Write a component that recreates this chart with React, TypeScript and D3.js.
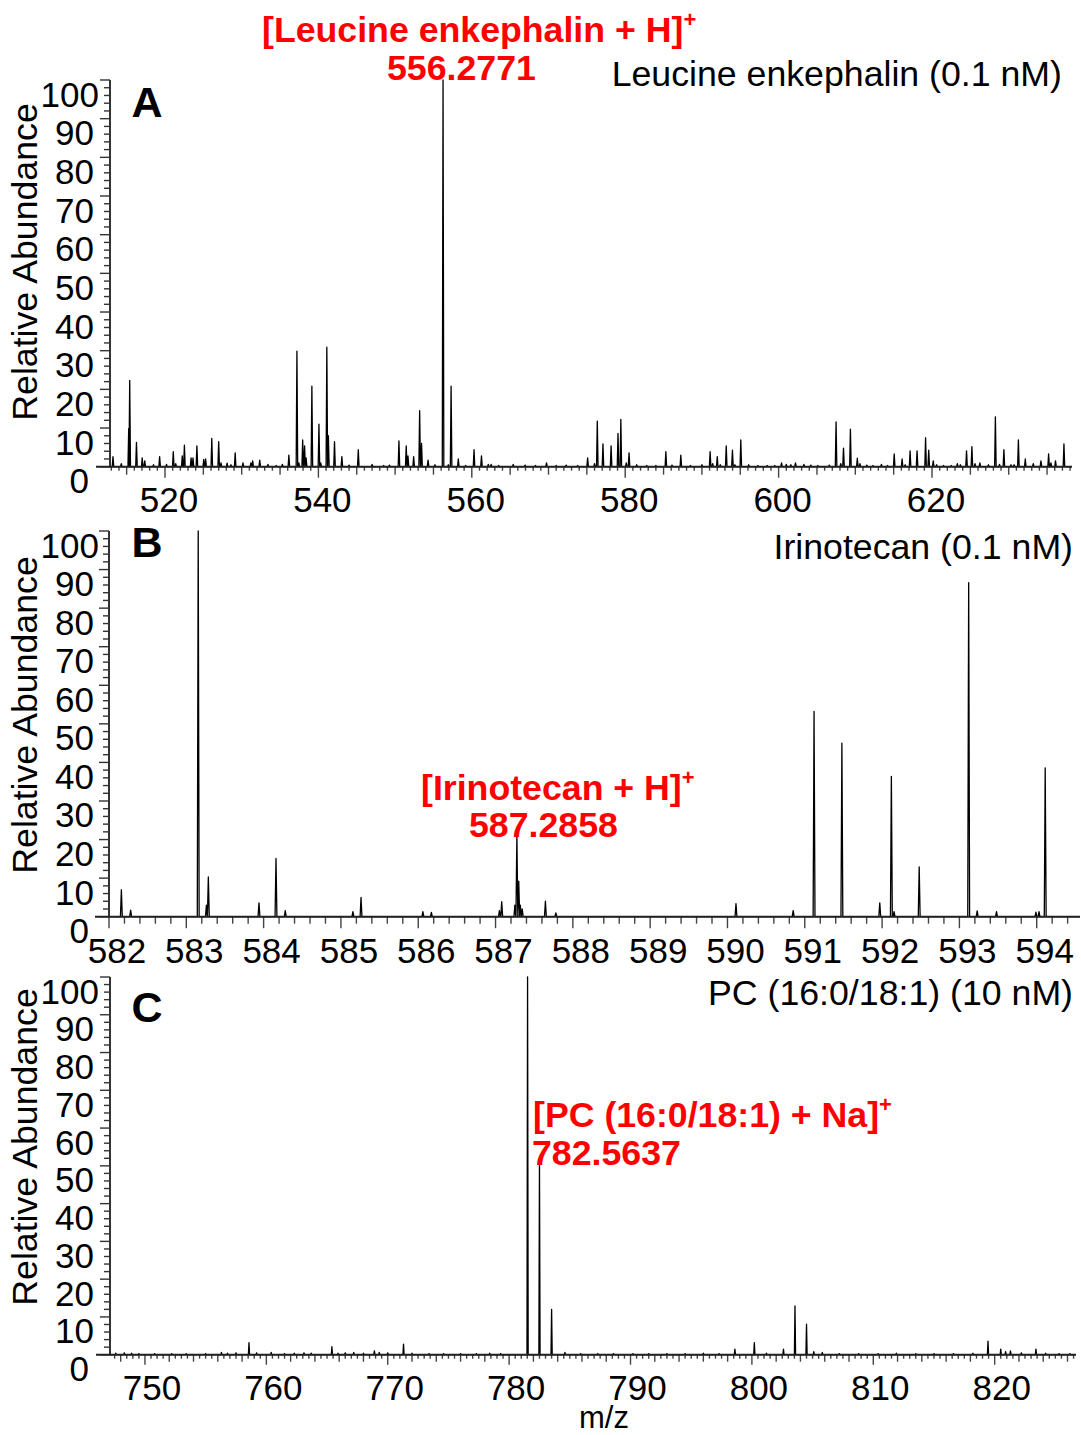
import React from "react";
import * as d3 from "d3";

const FONT = "'Liberation Sans', Arial, Helvetica, sans-serif";
const TXT = 35.7;
const TICK = 35;

type Peak = [number, number];

// ---------- DATA ----------
const yTickValues = [0, 10, 20, 30, 40, 50, 60, 70, 80, 90, 100];
const xTicksA = [520, 540, 560, 580, 600, 620];
const xTicksB = [582, 583, 584, 585, 586, 587, 588, 589, 590, 591, 592, 593, 594];
const xTicksC = [750, 760, 770, 780, 790, 800, 810, 820];

const peaksA: Peak[] = [
  [513.22, 2.6], [514.3, 0.8], [515.27, 9.9], [515.4, 22.3], [516.28, 6.3], [517.03, 2.3], [517.36, 1.5],
  [518.5, 0.5], [519.3, 2.6], [520.2, 0.6], [521.08, 3.9], [521.4, 0.8], [522.25, 2.8], [522.53, 5.6],
  [523.4, 2.3], [523.65, 2.3], [524.16, 5.4], [525.05, 1.9], [525.3, 2.0], [526.1, 7.3], [527.0, 6.5],
  [527.3, 1.0], [528.1, 0.9], [528.6, 0.5], [529.15, 3.6], [530.17, 1.0], [531.2, 1.0], [531.43, 1.5],
  [532.35, 1.7], [533.42, 0.6], [534.5, 0.3], [535.3, 0.6], [536.15, 3.0], [537.2, 29.9], [537.45, 1.0],
  [537.95, 6.9], [538.2, 5.4], [538.4, 2.3], [539.15, 20.8], [540.07, 11], [540.3, 1], [541.1, 30.9],
  [541.3, 8], [542.1, 6.5], [543.06, 2.6], [544.0, 0.4], [545.2, 4.4], [547.0, 0.6], [548.5, 0.3],
  [549.26, 0.4], [550.5, 6.7], [551.45, 5.4], [551.68, 2.8], [552.42, 2.6], [553.2, 14.5], [553.45, 6],
  [554.3, 1.7], [555.2, 0.5], [556.25, 100], [556.94, 0.5], [557.3, 20.8], [558.24, 2], [559.2, 0.3],
  [560.29, 4.4], [561.26, 2.8], [562.15, 0.6], [562.52, 0.6], [563.5, 0.3], [565.4, 0.6], [566.95, 0.4],
  [568.3, 0.3], [569.74, 1.0], [571.0, 0.3], [572.3, 0.4], [573.8, 0.3], [575.1, 2.3], [576.0, 0.8],
  [576.36, 11.8], [577.1, 5.9], [578.16, 5.4], [579.06, 8.6], [579.43, 12.2], [580.14, 1], [580.5, 3.6],
  [581.5, 0.5], [582.8, 0.3], [584.0, 0.3], [585.3, 3.9], [586.1, 0.4], [587.25, 3.0], [588.5, 0.3],
  [590.0, 0.5], [591.07, 3.9], [591.4, 0.8], [592.0, 2.6], [592.4, 0.5], [593.17, 5.4], [593.98, 4.3],
  [594.3, 0.5], [595.07, 6.9], [596.1, 0.5], [597.3, 0.3], [598.5, 0.3], [599.5, 0.3], [600.38, 1.0],
  [601.0, 0.6], [601.6, 0.5], [602.2, 1.0], [603.3, 0.6], [604.2, 0.4], [605.1, 0.3], [606.6, 0.4],
  [607.49, 11.6], [608.1, 0.8], [608.46, 4.8], [609.36, 9.7], [610.26, 2.2], [610.6, 0.8], [611.5, 0.4],
  [612.3, 0.3], [613.4, 0.6], [614.2, 0.3], [615.07, 3.3], [616.1, 2.0], [616.5, 0.5], [617.14, 4.1],
  [618.05, 4.1], [619.16, 7.5], [619.57, 4.3], [620.16, 1.5], [620.6, 0.5], [621.5, 0.3], [622.5, 0.3],
  [623.3, 0.8], [623.7, 0.5], [624.5, 4.1], [625.2, 5.2], [625.6, 0.8], [626.24, 1.0], [627.36, 0.5],
  [628.26, 12.9], [628.8, 0.6], [629.37, 4.4], [630.3, 0.5], [630.7, 0.5], [631.26, 6.9], [632.16, 2.0],
  [633.2, 0.8], [634.2, 1.5], [635.2, 3.3], [635.5, 1.0], [636.1, 1.5], [637.2, 5.9],
];

const peaksB: Peak[] = [
  [582.16, 7], [582.28, 1.7], [583.154, 100], [583.26, 3], [583.285, 10.3], [583.94, 3.6], [584.16, 15.1],
  [584.28, 1.6], [585.155, 1.3], [585.26, 5], [586.06, 1.3], [586.17, 1.1], [587.05, 1.6], [587.08, 3.9],
  [587.25, 3], [587.276, 21.1], [587.30, 9.2], [587.32, 3], [587.345, 2], [587.645, 4], [587.78, 1],
  [590.11, 3.4], [590.85, 1.6], [591.12, 53.2], [591.48, 45], [591.97, 3.6], [592.12, 36.4], [592.155, 1.3],
  [592.48, 12.9], [593.12, 86.6], [593.23, 1.5], [593.48, 1.3], [593.99, 1.2], [594.03, 1.3], [594.11, 38.6],
];

const peaksC: Peak[] = [
  [747.6, 0.4], [748.3, 0.5], [748.9, 0.4], [749.5, 0.3], [750.8, 0.3], [752.2, 0.3], [753.4, 0.3],
  [755.0, 0.3], [756.3, 0.6], [756.8, 0.4], [757.5, 0.5], [758.57, 3.2], [759.2, 0.5], [760.4, 0.6],
  [761.5, 0.3], [762.3, 0.4], [763.1, 0.5], [763.7, 0.4], [765.4, 2.1], [765.9, 0.4], [766.5, 0.5],
  [767.2, 0.6], [768.0, 0.4], [768.9, 1.0], [769.3, 0.6], [770.0, 0.5], [771.3, 2.8], [772.0, 0.4],
  [773.4, 0.3], [774.6, 0.3], [776.0, 0.3], [777.3, 0.3], [778.4, 0.4], [779.3, 0.3], [781.52, 100],
  [782.5, 51], [783.5, 12], [784.6, 0.6], [785.9, 0.3], [787.3, 0.3], [788.6, 0.3], [790.2, 0.3],
  [791.5, 0.3], [793.0, 0.3], [794.5, 0.3], [796.0, 0.4], [797.3, 0.3], [798.6, 1.5], [800.2, 3.2],
  [801.2, 0.4], [802.6, 1.5], [803.55, 12.9], [804.5, 8.1], [805.1, 0.8], [805.8, 0.6], [807.2, 0.3],
  [808.8, 0.3], [810.4, 0.3], [811.9, 0.4], [813.5, 0.3], [815.0, 0.3], [816.6, 0.3], [818.2, 0.4],
  [819.45, 3.6], [820.5, 1.5], [820.9, 0.8], [821.3, 1.0], [822.2, 0.5], [823.4, 1.5], [824.2, 0.4],
  [825.3, 0.3], [826.2, 0.3],
];

// ---------- DRAWING ----------
function rangeStep(a: number, b: number, step: number): number[] {
  const out: number[] = [];
  const start = Math.ceil(a / step - 1e-9);
  for (let i = start; i * step <= b + 1e-9; i++) out.push(+(i * step).toFixed(6));
  return out;
}
function isMult(v: number, m: number) {
  return Math.abs(v / m - Math.round(v / m)) < 1e-6;
}

interface PanelProps {
  domain: [number, number];
  px: [number, number];
  yTop: number;
  yBase: number;
  peaks: Peak[];
  hw: number;
  xTicks: number[];
  minorStep: number;
  medStep: number;
  minorLen: number;
  medLen: number;
  majorLen: number;
  labelDx: number;
  labelBaseDy: number;
  baseRight: number;
  letter: string;
  letterY: number;
  title: string;
  titleX: number;
  titleY: number;
  ylabelCy: number;
  red: { text: string; x: number; y: number; sup?: boolean }[];
}

function Panel(p: PanelProps) {
  const x = d3.scaleLinear().domain(p.domain).range(p.px);
  const y = d3.scaleLinear().domain([0, 100]).range([p.yBase, p.yTop]);
  const sorted = [...p.peaks].sort((a, b) => a[0] - b[0]);
  const pts: [number, number][] = [[p.domain[0], 0]];
  sorted.forEach(([mz, h]) => {
    pts.push([mz - p.hw, 0], [mz, h], [mz + p.hw, 0]);
  });
  pts.push([p.domain[1], 0]);
  const path = d3
    .line<[number, number]>()
    .x((d) => x(d[0]))
    .y((d) => y(d[1]))(pts) as string;

  const x0 = p.px[0];
  const yMinor = d3.range(0, 101, 2);
  const xMinor = rangeStep(p.domain[0], p.domain[1], p.minorStep);

  return (
    <g>
      {yMinor.map((v) => (
        <line
          key={"yt" + v}
          x1={x0}
          x2={x0 - (isMult(v, 10) ? 10 : 6)}
          y1={y(v)}
          y2={y(v)}
          stroke="#333"
          strokeWidth={1.4}
        />
      ))}
      {yTickValues.map((v) => {
        const s = String(v);
        return (
          <text
            key={"yl" + v}
            x={94 + (s.length - 2) * 5}
            y={y(v) + 26.5}
            textAnchor="end"
            fontSize={TICK}
            fontFamily={FONT}
            fill="#000"
          >
            {s}
          </text>
        );
      })}
      {xMinor.map((v) => {
        const major = p.xTicks.some((t) => Math.abs(t - v) < 1e-6);
        const med = !major && isMult(v, p.medStep);
        const len = major ? p.majorLen : med ? p.medLen : p.minorLen;
        return (
          <line
            key={"xt" + v}
            x1={x(v)}
            x2={x(v)}
            y1={p.yBase}
            y2={p.yBase + len}
            stroke="#444"
            strokeWidth={1.4}
          />
        );
      })}
      {p.xTicks.map((v) => (
        <text
          key={"xl" + v}
          x={x(v) + p.labelDx}
          y={p.yBase + p.labelBaseDy}
          textAnchor="middle"
          fontSize={TICK}
          fontFamily={FONT}
          fill="#000"
        >
          {v}
        </text>
      ))}
      <path d={path} fill="none" stroke="#000" strokeWidth={1.3} strokeLinejoin="round" />
      <line x1={x0} x2={x0} y1={p.yTop} y2={p.yBase} stroke="#333" strokeWidth={2} />
      <line x1={x0 - 14} x2={p.baseRight} y1={p.yBase} y2={p.yBase} stroke="#222" strokeWidth={2} />
      <text
        transform={`translate(37,${p.ylabelCy}) rotate(-90)`}
        textAnchor="middle"
        fontSize={TXT}
        fontFamily={FONT}
        fill="#000"
      >
        Relative Abundance
      </text>
      <text x={147} y={p.letterY} textAnchor="middle" fontSize={43} fontWeight="bold" fontFamily={FONT} fill="#000">
        {p.letter}
      </text>
      <text x={p.titleX} y={p.titleY} textAnchor="end" fontSize={TXT} fontFamily={FONT} fill="#000">
        {p.title}
      </text>
      {p.red.map((r, i) => (
        <text key={"r" + i} x={r.x} y={r.y} fontSize={TXT} fontWeight="bold" fontFamily={FONT} fill="#ff0000">
          {r.text}
          {r.sup ? (
            <tspan fontSize={22} dy={-15}>
              +
            </tspan>
          ) : null}
        </text>
      ))}
    </g>
  );
}

export default function App() {
  return (
    <svg width={1081} height={1435} style={{ display: "block", position: "absolute", left: 0, top: 0, background: "#fff" }}>
      <rect x={0} y={0} width={1081} height={1435} fill="#fff" />
      <Panel
        domain={[512.83, 638.25]}
        px={[110, 1072]}
        yTop={80}
        yBase={466.7}
        peaks={peaksA}
        hw={0.1}
        xTicks={xTicksA}
        minorStep={1}
        medStep={5}
        minorLen={4}
        medLen={8}
        majorLen={11}
        labelDx={4}
        labelBaseDy={45}
        baseRight={1072}
        letter="A"
        letterY={117}
        title="Leucine enkephalin (0.1 nM)"
        titleX={1062}
        titleY={86}
        ylabelCy={262}
        red={[
          { text: "[Leucine enkephalin + H]", x: 262, y: 42, sup: true },
          { text: "556.2771", x: 387, y: 80 },
        ]}
      />
      <Panel
        domain={[582, 594.56]}
        px={[109, 1080]}
        yTop={531}
        yBase={916.7}
        peaks={peaksB}
        hw={0.012}
        xTicks={xTicksB}
        minorStep={0.2}
        medStep={1}
        minorLen={7}
        medLen={7}
        majorLen={11.5}
        labelDx={8}
        labelBaseDy={46}
        baseRight={1080}
        letter="B"
        letterY={557}
        title="Irinotecan (0.1 nM)"
        titleX={1073}
        titleY={559}
        ylabelCy={715}
        red={[
          { text: "[Irinotecan + H]", x: 421, y: 800, sup: true },
          { text: "587.2858", x: 469, y: 837 },
        ]}
      />
      <Panel
        domain={[747.12, 826.7]}
        px={[110, 1076]}
        yTop={977}
        yBase={1354.7}
        peaks={peaksC}
        hw={0.05}
        xTicks={xTicksC}
        minorStep={0.5}
        medStep={2}
        minorLen={4}
        medLen={7}
        majorLen={10}
        labelDx={7}
        labelBaseDy={45.5}
        baseRight={1076}
        letter="C"
        letterY={1022}
        title="PC (16:0/18:1) (10 nM)"
        titleX={1073}
        titleY={1005}
        ylabelCy={1147}
        red={[
          { text: "[PC (16:0/18:1) + Na]", x: 533, y: 1127, sup: true },
          { text: "782.5637", x: 532, y: 1165 },
        ]}
      />
      <text x={604} y={1428} textAnchor="middle" fontSize={31} fontFamily={FONT} fill="#000">
        m/z
      </text>
    </svg>
  );
}
